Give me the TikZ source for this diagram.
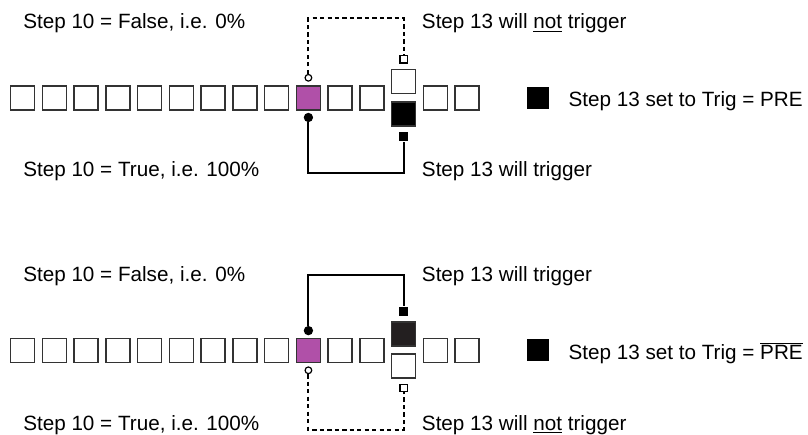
\documentclass[tikz,border=0pt]{standalone}
\usepackage{fontspec}
\setmainfont{Liberation Sans}
\usetikzlibrary{positioning}
\definecolor{stepmag}{HTML}{B050A8}
\definecolor{stepblk}{HTML}{231F20}
\begin{document}
\begin{tikzpicture}[x=0.75pt,y=-0.75pt,
    cell/.style={draw=black!80,line width=1.1pt,minimum size=18pt,inner sep=0pt},
    opendot/.style={draw,circle,fill=white,line width=0.9pt,minimum size=5pt,inner sep=0pt},
    fulldot/.style={circle,fill=black,minimum size=7pt,inner sep=0pt},
    opensq/.style={draw,fill=white,line width=0.9pt,minimum size=5.5pt,inner sep=0pt},
    fullsq/.style={fill=black,minimum size=7pt,inner sep=0pt},
    wire/.style={line width=1.5pt},
    dwire/.style={line width=1.4pt,dash pattern=on 3.2pt off 2.4pt},
    lbl/.style={anchor=base west,inner sep=0pt,font=\fontsize{15.5}{18}\selectfont}]
\useasboundingbox (0,0) rectangle (808,435);
% the two rows of steps
\foreach \r/\yc in {a/97.8,b/350.3} {
    \foreach \i in {1,...,15} {
        \ifnum\i=13 \else
            \ifnum\i=10
                \node[cell,fill=stepmag] (\r\i) at ({22.75+(\i-1)*31.74},\yc) {};
            \else
                \node[cell] (\r\i) at ({22.75+(\i-1)*31.74},\yc) {};
            \fi
        \fi
    }
}
% upper case: Trig = PRE
\node[cell] (a13u) at (403.6,81.6) {};
\node[cell,fill=black] (a13d) at (403.6,113.8) {};
\node[opendot,above=2.5pt of a10] (a10o) {};
\node[fulldot,below=1.5pt of a10] (a10f) {};
\node[opensq,above=4pt of a13u] (a13o) {};
\node[fullsq,below=4pt of a13d] (a13f) {};
\coordinate (atop) at (356,18.3);
\coordinate (abot) at (356,172.7);
\draw[dwire] (a10o) |- (atop) -| (a13o);
\draw[wire] (a10f) |- (abot) -| (a13f);
\node[lbl] (afalse) at (23,29) {Step 10 = False, i.e. 0\%};
\node[lbl] (anot) at (421.7,29) {Step 13 will \underline{not} trigger};
\node[lbl] (atrue) at (23,176) {Step 10 = True, i.e. 100\%};
\node[lbl] (awill) at (421.7,176) {Step 13 will trigger};
\node[fill=black,minimum size=16.5pt,inner sep=0pt] (akey) at (538,97.8) {};
\node[lbl] (akeyt) at (568.3,106.7) {Step 13 set to Trig = PRE};
% lower case: Trig = not PRE
\node[cell,fill=stepblk] (b13u) at (403.6,334.2) {};
\node[cell] (b13d) at (403.6,365.8) {};
\node[fulldot,above=1.5pt of b10] (b10f) {};
\node[opendot,below=2.5pt of b10] (b10o) {};
\node[fullsq,above=4pt of b13u] (b13f) {};
\node[opensq,below=4pt of b13d] (b13o) {};
\coordinate (btop) at (356,275);
\coordinate (bbot) at (356,430);
\draw[wire] (b10f) |- (btop) -| (b13f);
\draw[dwire] (b10o) |- (bbot) -| (b13o);
\node[lbl] (bfalse) at (23,281.5) {Step 10 = False, i.e. 0\%};
\node[lbl] (bwill) at (421.7,281.5) {Step 13 will trigger};
\node[lbl] (btrue) at (23,430) {Step 10 = True, i.e. 100\%};
\node[lbl] (bnot) at (421.7,430) {Step 13 will \underline{not} trigger};
\node[fill=black,minimum size=16.5pt,inner sep=0pt] (bkey) at (538,350.3) {};
\node[lbl] (bkeyt) at (568.3,359.2) {Step 13 set to Trig = $\overline{\mbox{PRE}}$};
\end{tikzpicture}
\end{document}
